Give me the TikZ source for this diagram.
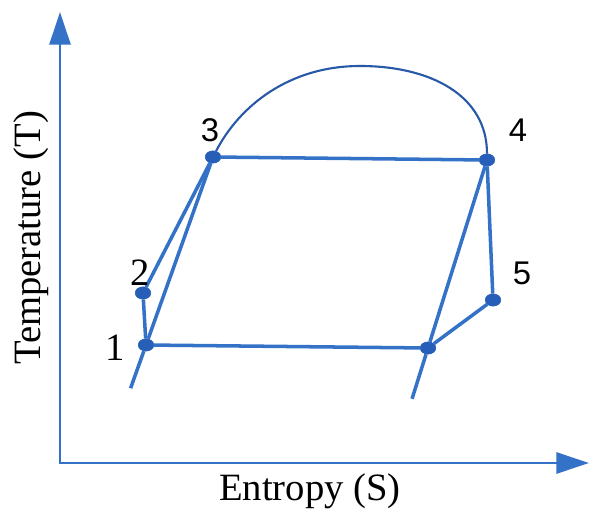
\documentclass[tikz,border=0pt]{standalone}
\usepackage{fontspec}
\setmainfont{Liberation Serif}
\newfontfamily\numfont{Liberation Sans}
\usetikzlibrary{positioning, arrows.meta, calc, shapes.geometric}
\definecolor{cycleblue}{RGB}{52,114,200}
\definecolor{dotblue}{RGB}{38,94,184}
\definecolor{domeblue}{RGB}{40,88,168}

\begin{document}
\begin{tikzpicture}[
  x=0.03cm, y=-0.03cm,
  dot/.style={ellipse, draw=dotblue, fill=dotblue, minimum width=0.47cm, minimum height=0.37cm, inner sep=0pt},
  cyc/.style={cycleblue, line width=3pt},
  dome/.style={domeblue, line width=1.8pt},
  axis/.style={cycleblue, line width=2.5pt, {Triangle[length=0.98cm, width=0.63cm]}-{Triangle[length=0.98cm, width=0.63cm]}},
  axlab/.style={font=\fontsize{33}{38}\selectfont},
  numlab/.style={font=\numfont\fontsize{28}{32}\selectfont},
  serlab/.style={font=\fontsize{33}{36}\selectfont}
]
\useasboundingbox (0,0) rectangle (591,514);
% --- axes ---
\coordinate (o) at (60,463);
\coordinate (ytip) at (60,12);
\coordinate (xtip) at (589,463);
\draw[axis] (ytip) -- (o) -- (xtip);
\node[axlab] (xlab) at (310,491) {Entropy (S)};
\node[axlab, rotate=90] (ylab) at (31,238) {Temperature (T)};
% --- state points ---
\node[dot] (p1) at (146,345) {};
\node[dot] (p2) at (143,293) {};
\node[dot] (p3) at (213,157) {};
\node[dot] (p4) at (487,160) {};
\node[dot] (p5) at (493,300) {};
\node[dot] (p6) at (428,348) {};
\coordinate (e1) at ($(p3)!1.23!(p1)$);
\coordinate (e6) at ($(p4)!1.27!(p6)$);
% --- cycle ---
\draw[cyc] (p1) -- (p2);
\draw[cyc] (p2) -- (p3);
\draw[cyc] (p3) -- (p1);
\draw[cyc] (p1) -- (e1);
\draw[cyc] (p3) -- (p4);
\draw[cyc] (p4) -- (p5);
\draw[cyc] (p5) -- (p6);
\draw[cyc] (p1) -- (p6);
\draw[cyc] (p4) -- (p6);
\draw[cyc] (p6) -- (e6);
% --- saturation dome ---
\draw[dome] (p3) .. controls (240,105) and (290,66) .. (360,66)
  .. controls (430,66) and (487,95) .. (p4);
% --- labels ---
\node[serlab] (l1) at (115,348) {1};
\node[serlab] (l2) at (140,273) {2};
\node[numlab] (l3) at (210,130) {3};
\node[numlab] (l4) at (518,130) {4};
\node[numlab] (l5) at (522,273) {5};
\end{tikzpicture}
\end{document}
